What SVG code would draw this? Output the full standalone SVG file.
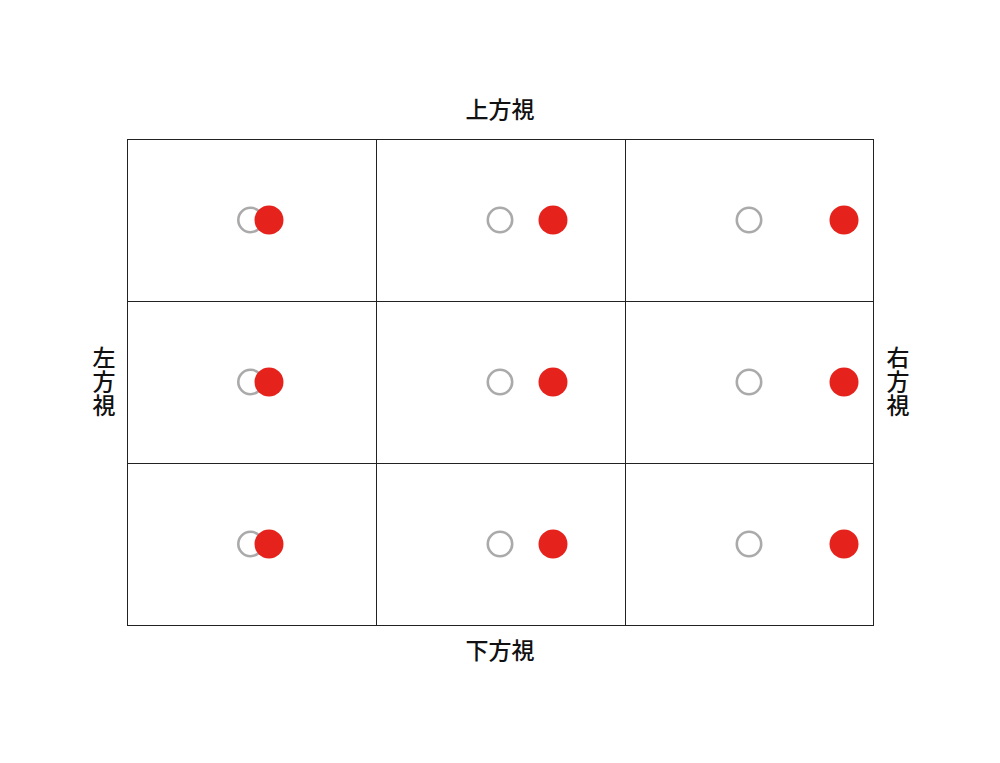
<svg xmlns="http://www.w3.org/2000/svg" width="1000" height="763" viewBox="0 0 1000 763">
<style>
.cell{fill:#fff;stroke:#222;stroke-width:1}
.g{fill:none;stroke:#aaa;stroke-width:2.6}
.r{fill:#e5221c}
.t{font-family:"Noto Sans CJK JP","Noto Sans CJK SC",sans-serif;font-size:23px;font-weight:500;fill:#111;text-anchor:middle}
.v{writing-mode:vertical-rl;letter-spacing:1px}
</style>
<rect width="1000" height="763" fill="#fff"/>
<g id="grid">
<rect class="cell" x="127.5" y="139.5" width="249" height="162"/>
<rect class="cell" x="376.5" y="139.5" width="249" height="162"/>
<rect class="cell" x="625.5" y="139.5" width="248" height="162"/>
<rect class="cell" x="127.5" y="301.5" width="249" height="162"/>
<rect class="cell" x="376.5" y="301.5" width="249" height="162"/>
<rect class="cell" x="625.5" y="301.5" width="248" height="162"/>
<rect class="cell" x="127.5" y="463.5" width="249" height="162"/>
<rect class="cell" x="376.5" y="463.5" width="249" height="162"/>
<rect class="cell" x="625.5" y="463.5" width="248" height="162"/>
</g>
<g id="row1">
<circle class="g" cx="250.5" cy="220" r="12.2"/><circle class="r" cx="269" cy="220" r="14.5"/>
<circle class="g" cx="500" cy="220" r="12.2"/><circle class="r" cx="553" cy="220" r="14.5"/>
<circle class="g" cx="749" cy="220" r="12.2"/><circle class="r" cx="844" cy="220" r="14.5"/>
</g>
<g id="row2">
<circle class="g" cx="250.5" cy="382" r="12.2"/><circle class="r" cx="269" cy="382" r="14.5"/>
<circle class="g" cx="500" cy="382" r="12.2"/><circle class="r" cx="553" cy="382" r="14.5"/>
<circle class="g" cx="749" cy="382" r="12.2"/><circle class="r" cx="844" cy="382" r="14.5"/>
</g>
<g id="row3">
<circle class="g" cx="250.5" cy="544" r="12.2"/><circle class="r" cx="269" cy="544" r="14.5"/>
<circle class="g" cx="500" cy="544" r="12.2"/><circle class="r" cx="553" cy="544" r="14.5"/>
<circle class="g" cx="749" cy="544" r="12.2"/><circle class="r" cx="844" cy="544" r="14.5"/>
</g>
<g id="labels">
<text class="t" x="500" y="118">上方視</text>
<text class="t" x="500" y="659">下方視</text>
<text class="t v" x="104" y="382">左方視</text>
<text class="t v" x="898" y="382">右方視</text>
</g>
</svg>
